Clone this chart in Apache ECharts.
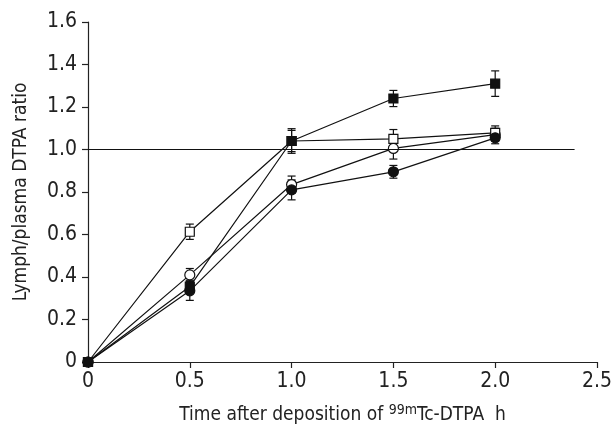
<!DOCTYPE html>
<html>
<head>
<meta charset="utf-8">
<script src="https://cdn.jsdelivr.net/npm/echarts@6/dist/echarts.min.js"></script>
<style>html,body{margin:0;padding:0;background:#fff}#c{width:615px;height:432px}</style>
</head>
<body>
<div id="c"></div>
<script>
var times = [0, 0.5, 1.0, 1.5, 2.0];
var xTicks = ['0', '0.5', '1.0', '1.5', '2.0', '2.5'];
var yTicks = ['0', '0.2', '0.4', '0.6', '0.8', '1.0', '1.2', '1.4', '1.6'];

var filledSquare = [0, 0.355, 1.04, 1.24, 1.31];
var filledSquareErr = [0, 0.03, 0.058, 0.038, 0.06];
var openSquare = [0, 0.613, 1.04, 1.05, 1.078];
var openSquareErr = [0, 0.036, 0.05, 0.044, 0.033];
var openCircle = [0, 0.41, 0.835, 1.005, 1.07];
var openCircleErr = [0, 0.03, 0.04, 0.05, 0.03];
var filledCircle = [0, 0.335, 0.81, 0.895, 1.055];
var filledCircleErr = [0, 0.045, 0.047, 0.03, 0.028];
var refLevel = 1.0;
var refEnd = 2.39;

var FONT = '"Liberation Sans Narrow", "DejaVu Sans Condensed", sans-serif';

function pts(vals) { return times.map(function (t, i) { return [t, vals[i]]; }); }
function errData(vals, errs) { return times.map(function (t, i) { return [t, vals[i] - errs[i], vals[i] + errs[i]]; }); }

function errSeries(vals, errs) {
  return {
    type: 'custom',
    data: errData(vals, errs),
    z: 1,
    silent: true,
    renderItem: function (params, api) {
      if (api.value(2) - api.value(1) <= 0) return null;
      var lo = api.coord([api.value(0), api.value(1)]);
      var hi = api.coord([api.value(0), api.value(2)]);
      var w = 4;
      var st = { stroke: '#111', lineWidth: 1.2 };
      return {
        type: 'group',
        children: [
          { type: 'line', shape: { x1: lo[0], y1: lo[1], x2: hi[0], y2: hi[1] }, style: st },
          { type: 'line', shape: { x1: lo[0] - w, y1: lo[1], x2: lo[0] + w, y2: lo[1] }, style: st },
          { type: 'line', shape: { x1: hi[0] - w, y1: hi[1], x2: hi[0] + w, y2: hi[1] }, style: st }
        ]
      };
    }
  };
}

function lineSeries(vals, symbol, fill, size) {
  return {
    type: 'line',
    data: pts(vals),
    symbol: symbol,
    symbolSize: size,
    showAllSymbol: true,
    z: 3,
    lineStyle: { color: '#111', width: 1.2 },
    itemStyle: { color: fill, borderColor: '#111', borderWidth: 1.2 },
    emphasis: { disabled: true },
    animation: false
  };
}

var chart = echarts.init(document.getElementById('c'), null, { renderer: 'canvas' });
chart.setOption({
  animation: false,
  textStyle: { fontFamily: FONT },
  grid: { left: 88, right: 14, top: 22, bottom: 70, containLabel: false },
  xAxis: {
    type: 'value', min: 0, max: 2.5, interval: 0.5,
    axisLine: { show: true, lineStyle: { color: '#222', width: 1.2 } },
    axisTick: { show: true, length: 6, lineStyle: { color: '#222', width: 1.2 } },
    axisLabel: { color: '#222', fontSize: 21, fontFamily: FONT, margin: 9,
      formatter: function (v) { return xTicks[Math.round(v / 0.5)]; } },
    splitLine: { show: false },
    name: 'Time after deposition of {sup|99m}Tc-DTPA  h',
    nameLocation: 'middle', nameGap: 41,
    nameTextStyle: { color: '#222', fontSize: 19, fontFamily: FONT,
      rich: { sup: { fontSize: 14, fontFamily: FONT, color: '#222', padding: [0, 0, 10, 0] } } }
  },
  yAxis: {
    type: 'value', min: 0, max: 1.6, interval: 0.2,
    axisLine: { show: true, lineStyle: { color: '#222', width: 1.2 } },
    axisTick: { show: true, length: 6, lineStyle: { color: '#222', width: 1.2 } },
    axisLabel: { color: '#222', fontSize: 21, fontFamily: FONT, margin: 11,
      formatter: function (v) { return yTicks[Math.round(v / 0.2)]; } },
    splitLine: { show: false },
    name: 'Lymph/plasma DTPA ratio',
    nameLocation: 'middle', nameGap: 57,
    nameTextStyle: { color: '#222', fontSize: 19, fontFamily: FONT }
  },
  series: [
    {
      type: 'line', data: [], z: 0,
      markLine: {
        silent: true, symbol: 'none', label: { show: false },
        lineStyle: { color: '#111', width: 1.2, type: 'solid' },
        data: [[{ coord: [0, refLevel] }, { coord: [refEnd, refLevel] }]]
      }
    },
    errSeries(filledSquare, filledSquareErr),
    errSeries(openSquare, openSquareErr),
    errSeries(openCircle, openCircleErr),
    errSeries(filledCircle, filledCircleErr),
    lineSeries(openCircle, 'circle', '#fff', 10),
    lineSeries(openSquare, 'rect', '#fff', 9),
    lineSeries(filledCircle, 'circle', '#111', 10),
    lineSeries(filledSquare, 'rect', '#111', 9)
  ]
});
</script>
</body>
</html>
